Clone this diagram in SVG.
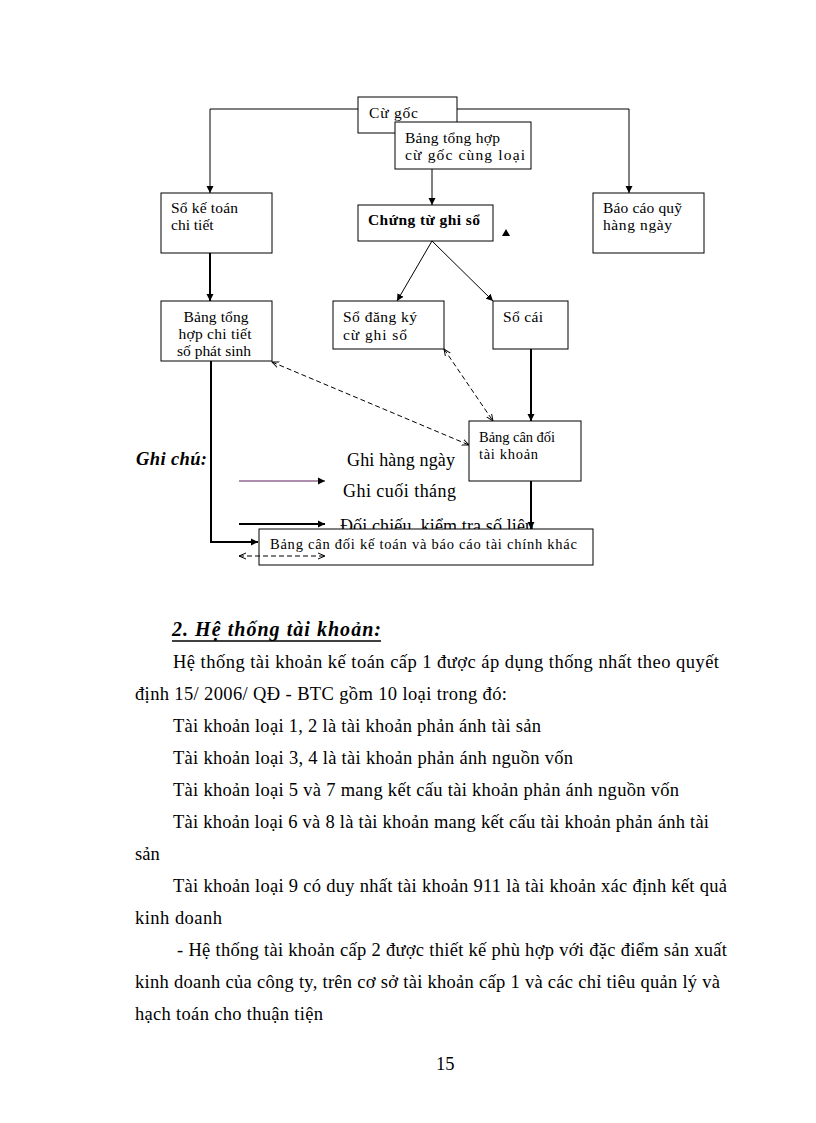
<svg xmlns="http://www.w3.org/2000/svg" width="816" height="1123" viewBox="0 0 816 1123">
<style>
text{font-family:"Liberation Serif","Times New Roman",serif;fill:#000}
.b{fill:#fff;stroke:#000;stroke-width:1}
.t{font-size:15.5px}
.s{font-size:14.5px}
.body{font-size:18.5px}
.c{fill:none;stroke:#000;stroke-width:1}
.k{fill:none;stroke:#000;stroke-width:2}
.d{fill:none;stroke:#000;stroke-width:1;stroke-dasharray:5,3}
</style>
<defs>
<marker id="a" markerWidth="8" markerHeight="8" refX="7" refY="4" orient="auto" markerUnits="userSpaceOnUse"><path d="M0,0.5 L7,4 L0,7.5 Z" fill="#000"/></marker>
<marker id="o" markerWidth="8" markerHeight="8" refX="7" refY="4" orient="auto-start-reverse" markerUnits="userSpaceOnUse"><path d="M0,1 L7,4 L0,7" fill="none" stroke="#000" stroke-width="1"/></marker>
<clipPath id="clipCT"><rect x="161" y="301" width="111" height="59"/></clipPath>
</defs>
<rect width="816" height="1123" fill="#fff"/>

<g id="connectors">
<path class="c" d="M358,109 H210 V193" marker-end="url(#a)"/>
<path class="c" d="M457,109 H629 V193" marker-end="url(#a)"/>
<path class="c" d="M432,169 V205" marker-end="url(#a)"/>
<path class="c" d="M432,241 L397,301" marker-end="url(#a)"/>
<path class="c" d="M432,241 L493,301" marker-end="url(#a)"/>
<path class="k" d="M210,253 V301" marker-end="url(#a)"/>
<path class="k" d="M531,349 V421" marker-end="url(#a)"/>
<path class="k" d="M531,481 V529" marker-end="url(#a)"/>
<path class="k" d="M211,361 V542 H258" marker-end="url(#a)"/>
<path class="d" d="M272,362 L469,445" marker-start="url(#o)" marker-end="url(#o)"/>
<path class="d" d="M444,349 L493,421" marker-start="url(#o)" marker-end="url(#o)"/>
</g>

<g id="node-cugoc">
<rect class="b" x="358" y="97" width="99" height="36"/>
<text class="t" x="369" y="118" textLength="49" lengthAdjust="spacing">Cừ gốc</text>
</g>
<g id="node-bangtonghop">
<rect class="b" x="395" y="122" width="136" height="47"/>
<text class="t" x="405" y="143" textLength="95" lengthAdjust="spacing">Bảng tổng hợp</text>
<text class="t" x="405" y="160" textLength="120" lengthAdjust="spacing">cừ gốc cùng loại</text>
</g>
<g id="node-sokt">
<rect class="b" x="161" y="193" width="111" height="60"/>
<text class="t" x="171" y="213" textLength="67" lengthAdjust="spacing">Sổ kế toán</text>
<text class="t" x="171" y="230">chi tiết</text>
</g>
<g id="node-chungtu">
<rect class="b" x="358" y="205" width="135" height="36"/>
<text x="368" y="225" font-size="15.5" font-weight="bold" textLength="112" lengthAdjust="spacing">Chứng từ ghi sổ</text>
</g>
<path id="tri" d="M502,236 L506,229 L510,236 Z" fill="#000"/>
<g id="node-baocao">
<rect class="b" x="593" y="193" width="111" height="60"/>
<text class="t" x="603" y="213" textLength="79" lengthAdjust="spacing">Báo cáo quỹ</text>
<text class="t" x="603" y="230" textLength="69" lengthAdjust="spacing">hàng ngày</text>
</g>
<g id="node-chitiet">
<rect class="b" x="161" y="301" width="111" height="60"/>
<g clip-path="url(#clipCT)">
<text class="t" x="216" y="322" text-anchor="middle" textLength="65" lengthAdjust="spacing">Bảng tổng</text>
<text class="t" x="215" y="339" text-anchor="middle" textLength="73" lengthAdjust="spacing">hợp chi tiết</text>
<text class="t" x="214" y="356" text-anchor="middle" textLength="74" lengthAdjust="spacing">số phát sinh</text>
</g>
</g>
<g id="node-dangky">
<rect class="b" x="333" y="301" width="111" height="48"/>
<text class="t" x="343" y="322" textLength="74" lengthAdjust="spacing">Sổ đăng ký</text>
<text class="t" x="343" y="340" textLength="64" lengthAdjust="spacing">cừ ghi sổ</text>
</g>
<g id="node-socai">
<rect class="b" x="493" y="301" width="75" height="48"/>
<text class="t" x="503" y="322" textLength="40" lengthAdjust="spacing">Sổ cái</text>
</g>
<g id="node-candoi">
<rect class="b" x="469" y="421" width="112" height="60"/>
<text class="s" x="479" y="442" textLength="76" lengthAdjust="spacing">Bảng cân đối</text>
<text class="s" x="479" y="459" textLength="59" lengthAdjust="spacing">tài khoản</text>
</g>

<g id="legend">
<text x="136" y="465" font-size="18.5" font-weight="bold" font-style="italic" textLength="71" lengthAdjust="spacing">Ghi chú:</text>
<text x="347" y="466" font-size="18" textLength="108" lengthAdjust="spacing">Ghi hàng ngày</text>
<text x="343" y="497" font-size="18" textLength="113" lengthAdjust="spacing">Ghi cuối tháng</text>
<text x="340" y="532" font-size="18" textLength="194" lengthAdjust="spacing">Đối chiếu, kiểm tra số liệu</text>
<path d="M239,481 H325" fill="none" stroke="#5a1e5a" stroke-width="1" marker-end="url(#a)"/>
<path class="k" d="M239,524 H325" marker-end="url(#a)"/>
</g>

<g id="node-bctc">
<rect class="b" x="259" y="529" width="334" height="36"/>
<text class="s" x="270" y="549" textLength="307" lengthAdjust="spacing">Bảng cân đối kế toán và báo cáo tài chính  khác</text>
</g>
<path id="legend-dashed" class="d" d="M239,556 H325" marker-start="url(#o)" marker-end="url(#o)"/>

<g id="body">
<text x="172" y="636" font-size="20" font-weight="bold" font-style="italic" textLength="209" lengthAdjust="spacing">2. Hệ thống tài khoản:</text>
<line x1="172" y1="641" x2="381" y2="641" stroke="#000" stroke-width="1.3"/>
<text class="body" x="173" y="668" textLength="546" lengthAdjust="spacing">Hệ thống tài khoản kế toán cấp 1 được áp dụng thống nhất theo quyết</text>
<text class="body" x="135" y="700" textLength="372" lengthAdjust="spacing">định 15/ 2006/ QĐ - BTC gồm 10 loại trong đó:</text>
<text class="body" x="173" y="732" textLength="368" lengthAdjust="spacing">Tài khoản loại 1, 2 là tài khoản phản ánh tài sản</text>
<text class="body" x="173" y="764" textLength="400" lengthAdjust="spacing">Tài khoản loại 3, 4 là tài khoản phản ánh nguồn vốn</text>
<text class="body" x="173" y="796" textLength="506" lengthAdjust="spacing">Tài khoản loại 5 và 7 mang kết cấu tài khoản phản ánh nguồn vốn</text>
<text class="body" x="173" y="828" textLength="536" lengthAdjust="spacing">Tài khoản loại 6 và 8 là tài khoản mang kết cấu tài khoản phản ánh tài</text>
<text class="body" x="135" y="860">sản</text>
<text class="body" x="173" y="892" textLength="554" lengthAdjust="spacing">Tài khoản loại 9 có duy nhất tài khoản 911 là tài khoản xác định kết quả</text>
<text class="body" x="135" y="924" textLength="87" lengthAdjust="spacing">kinh  doanh</text>
<text class="body" x="177" y="956" textLength="550" lengthAdjust="spacing">- Hệ thống tài khoản cấp 2 được thiết kế phù hợp với đặc điểm sản xuất</text>
<text class="body" x="135" y="988" textLength="585" lengthAdjust="spacing">kinh  doanh của công ty, trên cơ sở tài khoản cấp 1 và các chỉ tiêu quản lý và</text>
<text class="body" x="135" y="1020" textLength="188" lengthAdjust="spacing">hạch toán cho thuận tiện</text>
<text class="body" x="436" y="1070">15</text>
</g>
</svg>
